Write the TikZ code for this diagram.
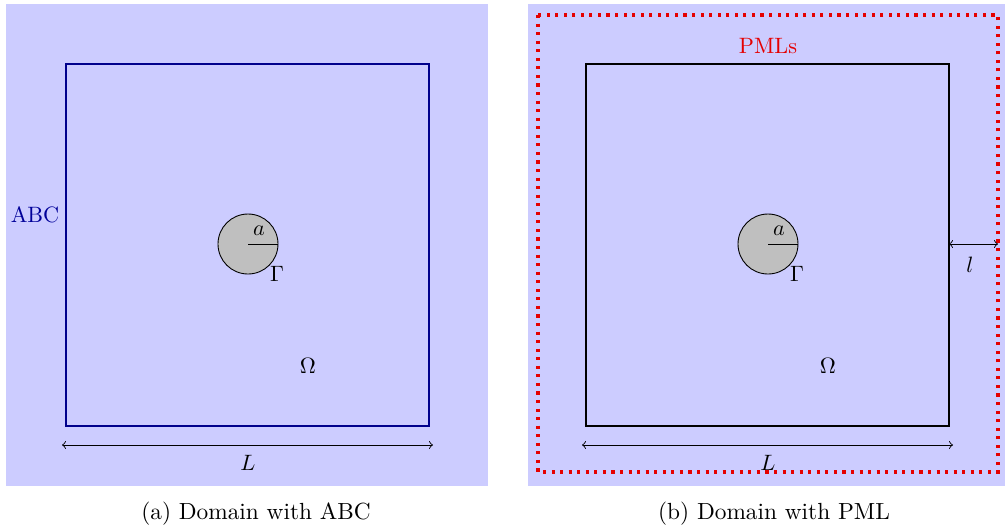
\documentclass[tikz,border=0pt]{standalone}
\usepackage{amsmath}
\begin{document}
\begin{tikzpicture}[x=0.45pt,y=-0.45pt,
  bg/.style={fill=blue!20,draw=none},
  domainA/.style={draw=blue!55!black,line width=0.8pt},
  domainB/.style={draw=black,line width=0.8pt},
  scat/.style={circle,draw=black,fill=gray!50,line width=0.4pt,minimum size=60*0.45pt,inner sep=0pt},
  dim/.style={<->,line width=0.4pt},
  pml/.style={draw=red!90!black,line width=1.4pt,dash pattern=on 1.4pt off 2.45pt},
  captext/.style={scale=1.05},
  lbl/.style={inner sep=1pt}]
\useasboundingbox (0,0) rectangle (1005,531);
% ---------- panel (a) ----------
\fill[bg] (6,4) rectangle (488,486);
\draw[domainA] (66,64) rectangle (429,426);
\node[scat] (c1) at (248,244) {};
\coordinate (r1) at (278,244);
\draw[line width=0.4pt] (c1.center) -- (r1);
\node[lbl] (a1) at (259,231) {$a$};
\node[lbl] (g1) at (277,274) {$\Gamma$};
\node[lbl] (o1) at (308,366) {$\Omega$};
\node[lbl,text=blue!60!black] (abc) at (35,215) {ABC};
\coordinate (L1a) at (62,445);
\coordinate (L1b) at (433,445);
\draw[dim] (L1a) -- (L1b);
\node[lbl] (Ll1) at (248,463) {$L$};
\node[captext] (cap1) at (256,514) {(a)\ Domain with ABC};
% ---------- panel (b) ----------
\fill[bg] (528,4) rectangle (1005,486);
\draw[pml] (538,15) rectangle (998,472);
\draw[domainB] (586,64) rectangle (949,426);
\node[scat] (c2) at (768,244) {};
\coordinate (r2) at (798,244);
\draw[line width=0.4pt] (c2.center) -- (r2);
\node[lbl] (a2) at (779,231) {$a$};
\node[lbl] (g2) at (797,274) {$\Gamma$};
\node[lbl] (o2) at (828,366) {$\Omega$};
\node[lbl,text=red!90!black] (pmls) at (768,46) {PMLs};
\coordinate (l2a) at (949,244);
\coordinate (l2b) at (998,244);
\draw[dim] (l2a) -- (l2b);
\node[lbl] (ll2) at (970,265) {$l$};
\coordinate (L2a) at (582,445);
\coordinate (L2b) at (953,445);
\draw[dim] (L2a) -- (L2b);
\node[lbl] (Ll2) at (768,463) {$L$};
\node[captext] (cap2) at (774,514) {(b)\ Domain with PML};
\end{tikzpicture}
\end{document}
